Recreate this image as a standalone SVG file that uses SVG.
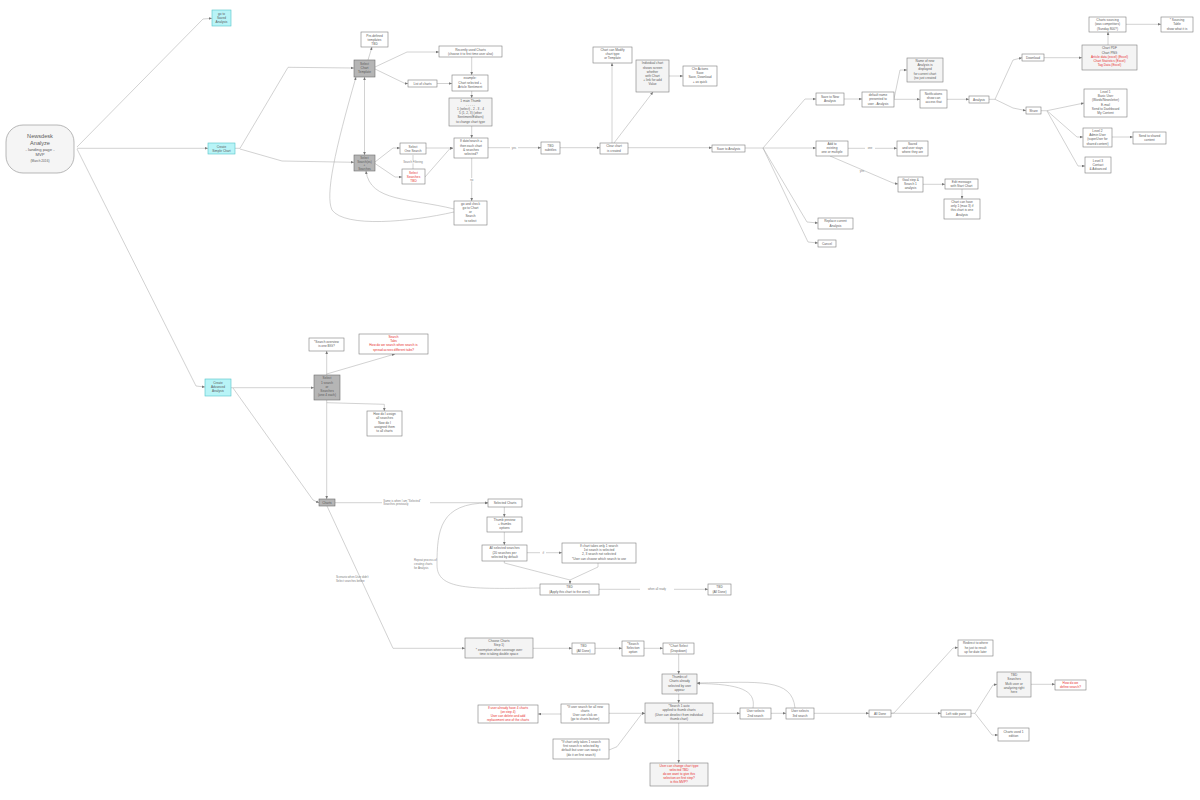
<svg xmlns="http://www.w3.org/2000/svg" width="1200" height="800" viewBox="0 0 1200 800">
<style>
.bg{fill:#ffffff}
.n rect{fill:#ffffff;stroke:#7e7e7e;stroke-width:0.6}
.n.g rect{fill:#f4f4f4}
.n.d rect{fill:#b5b5b5;stroke:#6e6e6e}
.n.c rect{fill:#b8f4f7;stroke:#55c3c8}
.n text{font-family:"Liberation Sans",Arial,sans-serif;font-size:3.2px;fill:#5a5a5a;text-anchor:middle}
.n .r{fill:#e8312f}
.e path{fill:none;stroke:#acacac;stroke-width:0.55;marker-end:url(#a)}
.e path.nb{marker-end:none}
.e path.dd{marker-start:url(#s)}
.l{font-family:"Liberation Sans",Arial,sans-serif;font-size:2.8px;fill:#808080}
</style>
<defs>
<marker id="a" viewBox="0 0 6 6" refX="6" refY="3" markerWidth="3" markerHeight="3" markerUnits="userSpaceOnUse" orient="auto"><path d="M0,0.4 L6,3 L0,5.6z" fill="#777"/></marker>
<marker id="s" viewBox="0 0 6 6" refX="0" refY="3" markerWidth="3" markerHeight="3" markerUnits="userSpaceOnUse" orient="auto"><path d="M6,0.4 L0,3 L6,5.6z" fill="#777"/></marker>
</defs>
<rect class="bg" x="0" y="0" width="1200" height="800"/>

<g id="connectors" class="e">
<path d="M77,147 L203,19 L212,18.3"/>
<path d="M77,148.3 L208,148.3"/>
<path d="M77,149 L196,386 L205,387"/>
<path d="M235,148.3 L240,148.3 L288,67.3 L354,68"/>
<path d="M240,149 L282,161 L354,162.3"/>
<path class="dd" d="M364.5,77 L364.5,155"/>
<path d="M368,60 L372,47"/>
<path d="M375,67 L407,52 L439,52"/>
<path d="M375,69 L405,83.5 L408,83.5"/>
<path d="M437,83.5 L452,83.5"/>
<path d="M471.7,57 L471.7,75"/>
<path d="M471.7,91 L471.7,98"/>
<path d="M471.7,126 L471.7,138"/>
<path d="M375,162 L393,148 L400,148"/>
<path d="M375,163.5 L395,177 L402,177"/>
<path class="nb" d="M413,155 L413,169"/>
<path d="M426,148 L453,148"/>
<path d="M425,177 L450,148.5 L453,148.5"/>
<path d="M487,147.7 L541,147.7"/>
<path d="M471.7,158 L471.7,201"/>
<path d="M454,209 C410,198 370,202 366,171"/>
<path d="M454,212 C410,222 345,228 332,210 C325,195 335,150 356,77"/>
<path d="M560,147.7 L600,147.7"/>
<path d="M612,143 L612,63"/>
<path d="M614,143 L653,92"/>
<path d="M669,76 L683,76"/>
<path d="M628,147.7 L712,147.7"/>
<path d="M745,148 L763,148 L805,99 L816,99"/>
<path d="M763,148 L816,148"/>
<path d="M763,148 L807,222 L818,223"/>
<path d="M763,148 L808,242 L818,243"/>
<path d="M844,99 L862,99"/>
<path d="M894,99 L900,70 L907,70"/>
<path d="M894,99.3 L920,99.3"/>
<path d="M947,99.3 L969,99.3"/>
<path d="M989,99.3 L995,99.3 L1013,60 L1022,57.7"/>
<path d="M995,99.3 L1013,108 L1026,110.7"/>
<path d="M1044,57.7 L1082,57.7"/>
<path d="M1108,45 L1108,32"/>
<path d="M1126,24.3 L1161,24.3"/>
<path d="M1041,110.7 L1047,110.7 L1084,103"/>
<path d="M1047,110.7 L1077,137 L1083,137"/>
<path d="M1047,111 L1078,166 L1085,166"/>
<path d="M1112,137 L1133,137"/>
<path d="M848,148.3 L897,148.3"/>
<path d="M830,156 L893,183 L898,184"/>
<path d="M923,184.3 L945,184.3"/>
<path d="M962,189 L962,199"/>

<path d="M231,387.7 L314,387.7"/>
<path d="M233,388 L313,500 L319,502.7"/>
<path d="M326.7,375 L326.7,351"/>
<path d="M326.7,374 L395,354"/>
<path d="M326.7,402.7 L384.3,404.3 L384.3,411"/>
<path d="M326.7,400 L326.7,499"/>
<path d="M327,506 L393,648.3 L465,648.3"/>
<path d="M335,502.7 L488,502.7"/>
<path d="M504.3,507 L504.3,517"/>
<path d="M504.3,532 L504.3,545"/>
<path d="M527,552.7 L562,552.7"/>
<path class="nb" d="M504.3,561 L504.3,563 L570,580"/>
<path d="M598,563 L598,567 L570,580 L570,584"/>
<path d="M599,589.3 L708,589.3"/>
<path d="M540,588 C470,589 437,590 437,565 C437,530 440,503 488,503"/>

<path d="M533,648.3 L572,648.3"/>
<path d="M595,648.3 L622,648.3"/>
<path d="M644,648.3 L663,648.3"/>
<path d="M678.7,654 L678.7,674"/>
<path d="M678.7,694 L678.7,703"/>
<path d="M678.7,723 L678.7,763"/>
<path d="M713,713.3 L740,713.3"/>
<path d="M771,713.3 L786,713.3"/>
<path d="M814,713.3 L869,713.3"/>
<path d="M753,708 C756,690 740,684 697,683.5"/>
<path d="M795,708 C792,678 760,682 697,683"/>
<path d="M561,714 L538,714"/>
<path d="M609,713.3 L645,713.3"/>
<path d="M609,750 L617,746.7 L642,713.5 L645,713.5"/>
<path d="M891,713.3 L894,713 L953,648 L958,647.5"/>
<path d="M891,713.3 L941,713.3"/>
<path d="M971,713.3 L975,713.3 L993,685 L997,684.3"/>
<path d="M975,713.3 L992,735 L998,735"/>
<path d="M1031,684.3 L1055,684.3"/>
</g>

<g id="edge-labels">
<rect x="403" y="160" width="20" height="3.4" fill="#fff"/>
<text class="l" x="413" y="162.6" text-anchor="middle">Search Filtering</text>
<rect x="510" y="146" width="8" height="3.4" fill="#fff"/>
<text class="l" x="514" y="148.7" text-anchor="middle">yes</text>
<rect x="467" y="178" width="9" height="3.4" fill="#fff"/>
<text class="l" x="471.7" y="180.7" text-anchor="middle">no</text>
<rect x="865" y="146.6" width="10" height="3.4" fill="#fff"/>
<text class="l" x="870" y="149.3" text-anchor="middle">one</text>
<text class="l" x="862" y="172" text-anchor="middle">yes</text>
<rect x="540" y="551" width="6" height="3.4" fill="#fff"/>
<text class="l" x="543.3" y="553.7" text-anchor="middle">if</text>
<rect x="640" y="587.6" width="34" height="3.4" fill="#fff"/>
<text class="l" x="657" y="590.2" text-anchor="middle">when all ready</text>
<rect x="382" y="499.6" width="48" height="6.6" fill="#fff"/>
<text class="l" x="383.3" y="502">Same is when I am "Selected"</text>
<text class="l" x="383.3" y="505.4">Searches previously</text>
<text class="l" x="336" y="578.4">Scenario when User didn't</text>
<text class="l" x="336" y="582.4">Select searches before</text>
<text class="l" x="414" y="561">Repeat process of</text>
<text class="l" x="414" y="565">creating charts</text>
<text class="l" x="414" y="569">for Analysis</text>
</g>

<g id="root" class="n g">
<rect x="6" y="125" width="68" height="48" rx="17" ry="17" style="fill:#f5f5f5;stroke:#8a8a8a"/>
<text x="40" y="138" style="font-size:5.6px">Newsdesk</text>
<text x="40" y="144.5" style="font-size:5.6px">Analyze</text>
<text x="40" y="150.5" style="font-size:4.2px">- landing page -</text>
<text x="40" y="155.5" style="font-size:4.2px">MVP</text>
<text x="40" y="162" style="font-size:3.2px">(March 2016)</text>
</g>

<g id="saved-analysis" class="n c"><rect x="212" y="10" width="19" height="16"/>
<text x="221.5" y="14.8">go to</text><text x="221.5" y="18.9">Saved</text><text x="221.5" y="23">Analysis</text></g>
<g id="simple-chart" class="n c"><rect x="208" y="143" width="27" height="11"/>
<text x="221.5" y="147.7">Create</text><text x="221.5" y="151.8">Simple Chart</text></g>
<g id="advanced" class="n c"><rect x="205" y="379" width="26" height="17"/>
<text x="218" y="384">Create</text><text x="218" y="388.2">Advanced</text><text x="218" y="392.4">Analysis</text></g>

<g id="predefined" class="n"><rect x="361" y="32" width="27" height="15"/>
<text x="374.5" y="36.5">Pre-defined</text><text x="374.5" y="40.6">templates</text><text x="374.5" y="44.7">TBD</text></g>
<g id="select-template" class="n d"><rect x="354" y="60" width="21" height="17"/>
<text x="364.5" y="64.6">Select</text><text x="364.5" y="68.8">Chart</text><text x="364.5" y="73">Template</text></g>
<g id="recent" class="n"><rect x="439" y="46" width="63" height="11"/>
<text x="470.5" y="50.5">Recently used Charts</text><text x="470.5" y="54.7">(choose it to first time user also)</text></g>
<g id="list-charts" class="n"><rect x="408" y="80" width="29" height="7"/>
<text x="422.5" y="84.8">List of charts</text></g>
<g id="example" class="n"><rect x="452" y="75" width="36" height="16"/>
<text x="470" y="79.3">example:</text><text x="470" y="83.5">Chart selected +</text><text x="470" y="87.7">Article Sentiment</text></g>
<g id="main-thumb" class="n g"><rect x="449" y="98" width="43" height="28"/>
<text x="470.5" y="101.8">1 main Thumb</text><text x="470.5" y="105.5">- - - - -</text><text x="470.5" y="109.7">1 (select) - 2 - 3 - 4</text><text x="470.5" y="114">5 (1, 2, 3) (other</text><text x="470.5" y="118.3">Sentiment/Editors)</text><text x="470.5" y="122.6">to change chart type</text></g>
<g id="select-search" class="n d"><rect x="354" y="155" width="21" height="16"/>
<text x="364.5" y="159" style="font-size:3px">Select</text><text x="364.5" y="162.5" style="font-size:3px">Search(es)</text><text x="364.5" y="166" style="font-size:3px">+</text><text x="364.5" y="169.5" style="font-size:3px">Searches</text></g>
<g id="one-search" class="n"><rect x="400" y="143" width="26" height="11"/>
<text x="413" y="147.5">Select</text><text x="413" y="151.6">One Search</text></g>
<g id="multi-search" class="n"><rect x="402" y="169" width="23" height="15"/>
<text class="r" x="413.5" y="173.6">Select</text><text class="r" x="413.5" y="177.7">Searches</text><text class="r" x="413.5" y="181.8">TBD</text></g>
<g id="if-date" class="n"><rect x="454" y="138" width="34" height="20"/>
<text x="471" y="142.3">If date/search =</text><text x="471" y="146.5">then each chart</text><text x="471" y="150.7">&amp; searches</text><text x="471" y="154.9">selected?</text></g>
<g id="tbd-subtitles" class="n"><rect x="541" y="142" width="19" height="12"/>
<text x="550.5" y="146.6">TBD</text><text x="550.5" y="150.7">subtitles</text></g>
<g id="go-check" class="n"><rect x="454" y="201" width="33" height="24"/>
<text x="470.5" y="204.8">go and check</text><text x="470.5" y="209">go to Chart</text><text x="470.5" y="213.2">or</text><text x="470.5" y="217.4">Search</text><text x="470.5" y="221.6">to select</text></g>
<g id="clear-chart" class="n"><rect x="600" y="143" width="28" height="11"/>
<text x="614" y="147.4">Clear chart</text><text x="614" y="151.5">is created</text></g>
<g id="chart-modify" class="n"><rect x="593" y="47" width="39" height="16"/>
<text x="612.5" y="50.9">Chart can Modify</text><text x="612.5" y="55.1">chart type</text><text x="612.5" y="59.3">or Template</text></g>
<g id="individual" class="n g"><rect x="636" y="60" width="33" height="32"/>
<text x="652.5" y="64.4">Individual chart</text><text x="652.5" y="68.6">shows screen</text><text x="652.5" y="72.8">whether</text><text x="652.5" y="77">with Chart</text><text x="652.5" y="81.2">+ link for add</text><text x="652.5" y="85.4">Value</text></g>
<g id="chr-actions" class="n"><rect x="683" y="66" width="34" height="20"/>
<text x="700" y="70">Chr Actions</text><text x="700" y="74.2">Save</text><text x="700" y="78.4">Save, Download</text><text x="700" y="82.6">+ as quick</text></g>
<g id="save-to" class="n"><rect x="712" y="145" width="33" height="7"/>
<text x="728.5" y="149.7">Save to Analysis</text></g>
<g id="save-new" class="n"><rect x="816" y="93" width="28" height="12"/>
<text x="830" y="97.6">Save to New</text><text x="830" y="101.7">Analysis</text></g>
<g id="default-name" class="n"><rect x="862" y="92" width="32" height="15"/>
<text x="878" y="96.3">default name</text><text x="878" y="100.4">presented to</text><text x="878" y="104.5">user - Analysis</text></g>
<g id="name-new" class="n g"><rect x="907" y="58" width="36" height="24"/>
<text x="925" y="62">Name of new</text><text x="925" y="66.2">Analysis is</text><text x="925" y="70.4">displayed</text><text x="925" y="74.6">for current chart</text><text x="925" y="78.8">(no just created</text></g>
<g id="notifications" class="n"><rect x="920" y="90" width="27" height="18"/>
<text x="933.5" y="94.8">Notifications</text><text x="933.5" y="99">show can</text><text x="933.5" y="103.2">access that</text></g>
<g id="analysis" class="n"><rect x="969" y="96" width="20" height="7"/>
<text x="979" y="100.7">Analysis</text></g>
<g id="download" class="n"><rect x="1022" y="54" width="22" height="7"/>
<text x="1033" y="58.7">Download</text></g>
<g id="chart-pdf" class="n g"><rect x="1082" y="45" width="55" height="25"/>
<text x="1109.5" y="49.3">Chart PDF</text><text x="1109.5" y="53.5">Chart PNG</text><text class="r" x="1109.5" y="57.7">Article data (excel) (Excel)</text><text class="r" x="1109.5" y="61.9">Chart Statistics (Excel)</text><text class="r" x="1109.5" y="66.1">Tag Data (Excel)</text></g>
<g id="sourcing" class="n"><rect x="1089" y="17" width="37" height="15"/>
<text x="1107.5" y="21.3">Charts sourcing</text><text x="1107.5" y="25.4">(was competitors)</text><text x="1107.5" y="29.5">(Sunday 800?)</text></g>
<g id="sourcing-table" class="n"><rect x="1161" y="17" width="32" height="15"/>
<text x="1177" y="21.3">* Sourcing</text><text x="1177" y="25.4">Table</text><text x="1177" y="29.5">show what it is</text></g>
<g id="share" class="n"><rect x="1026" y="107" width="15" height="7"/>
<text x="1033.5" y="111.7">Share</text></g>
<g id="level1" class="n"><rect x="1084" y="89" width="43" height="28"/>
<text x="1105.5" y="92.9">Level 1</text><text x="1105.5" y="97.1">Basic User</text><text x="1105.5" y="101.3">(Words/Newsletter)</text><text x="1105.5" y="105.5">E-mail</text><text x="1105.5" y="109.7">Send to Dashboard</text><text x="1105.5" y="113.9">My Content</text></g>
<g id="level2" class="n"><rect x="1083" y="128" width="29" height="19"/>
<text x="1097.5" y="132">Level 2</text><text x="1097.5" y="136.2">Admin User</text><text x="1097.5" y="140.4">(superUser for</text><text x="1097.5" y="144.6">shared content)</text></g>
<g id="send-shared" class="n"><rect x="1133" y="132" width="33" height="12"/>
<text x="1149.5" y="136.6">Send to shared</text><text x="1149.5" y="140.7">content</text></g>
<g id="level3" class="n"><rect x="1085" y="157" width="26" height="16"/>
<text x="1098" y="161.6">Level 3</text><text x="1098" y="165.8">Contact</text><text x="1098" y="170">&amp; Advanced</text></g>
<g id="add-existing" class="n"><rect x="816" y="141" width="32" height="15"/>
<text x="832" y="145.2">Add to</text><text x="832" y="149.3">existing</text><text x="832" y="153.4">one or multiple</text></g>
<g id="saved-stays" class="n"><rect x="897" y="141" width="31" height="15"/>
<text x="912.5" y="145.2">Saved</text><text x="912.5" y="149.3">and user stays</text><text x="912.5" y="153.4">where they are</text></g>
<g id="goal-step" class="n"><rect x="898" y="177" width="25" height="15"/>
<text x="910.5" y="181.2">Goal step &amp;</text><text x="910.5" y="185.3">Search 1</text><text x="910.5" y="189.4">analysis</text></g>
<g id="edit-message" class="n"><rect x="945" y="179" width="33" height="10"/>
<text x="961.5" y="183.2">Edit message</text><text x="961.5" y="187.3">with Start Chart</text></g>
<g id="chart-have" class="n"><rect x="944" y="199" width="36" height="20"/>
<text x="962" y="203">Chart can have</text><text x="962" y="207.2">only 1 (max 3) if</text><text x="962" y="211.4">this chart is one</text><text x="962" y="215.6">Analysis</text></g>
<g id="replace" class="n"><rect x="818" y="218" width="35" height="11"/>
<text x="835.5" y="222.4">Replace current</text><text x="835.5" y="226.5">Analysis</text></g>
<g id="cancel" class="n"><rect x="818" y="240" width="18" height="7"/>
<text x="827" y="244.7">Cancel</text></g>

<g id="search-overview" class="n"><rect x="309" y="338" width="35" height="13"/>
<text x="326.5" y="343.3">*Search overview</text><text x="326.5" y="347.4">is one BIG?</text></g>
<g id="search-tbd" class="n"><rect x="359" y="334" width="69" height="20"/>
<text class="r" x="393.5" y="338.2">Search</text><text class="r" x="393.5" y="342.3">Tabs</text><text class="r" x="393.5" y="346.4">How do we search when search is</text><text class="r" x="393.5" y="350.5">spread across different tabs?</text></g>
<g id="select-1-search" class="n d"><rect x="314" y="375" width="26" height="25"/>
<text x="327" y="379.4">Select</text><text x="327" y="383.6">1 search</text><text x="327" y="387.8">or</text><text x="327" y="392">Searches</text><text x="327" y="396.2">(one 4 each)</text></g>
<g id="how-assign" class="n"><rect x="367" y="411" width="35" height="25"/>
<text x="384.5" y="415.2">How do I assign</text><text x="384.5" y="419.4">all searches</text><text x="384.5" y="423.6">Now do I</text><text x="384.5" y="427.8">assigned them</text><text x="384.5" y="432">to all charts</text></g>
<g id="charts" class="n d"><rect x="319" y="499" width="16" height="7"/>
<text x="327" y="503.7">Charts</text></g>
<g id="selected-charts" class="n"><rect x="488" y="499" width="34" height="8"/>
<text x="505" y="504.1">Selected Charts</text></g>
<g id="thumb-preview" class="n"><rect x="487" y="517" width="35" height="15"/>
<text x="504.5" y="521.2">Thumb preview</text><text x="504.5" y="525.3">+ thumbs</text><text x="504.5" y="529.4">options</text></g>
<g id="all-selected" class="n"><rect x="482" y="545" width="45" height="16"/>
<text x="504.5" y="549.4">All selected searches</text><text x="504.5" y="553.5">(20 searches per</text><text x="504.5" y="557.6">selected by default</text></g>
<g id="if-chart" class="n"><rect x="562" y="543" width="74" height="20"/>
<text x="599" y="547">If chart takes only 1 search</text><text x="599" y="551.2">1st search is selected</text><text x="599" y="555.4">2, 3 search not selected</text><text x="599" y="559.6">*User can choose which search to use</text></g>
<g id="apply" class="n"><rect x="540" y="584" width="59" height="11"/>
<text x="569.5" y="588.4">TBD</text><text x="569.5" y="592.5">(Apply this chart to the ones)</text></g>
<g id="all-done-1" class="n"><rect x="708" y="584" width="23" height="11"/>
<text x="719.5" y="588.4">TBD</text><text x="719.5" y="592.5">(All Done)</text></g>

<g id="choose-charts" class="n g"><rect x="465" y="638" width="68" height="20"/>
<text x="499" y="642.2">Choose Charts</text><text x="499" y="646.4">Step 1)</text><text x="499" y="650.6">* exemption when coverage over</text><text x="499" y="654.8">time is taking double space</text></g>
<g id="all-done-2" class="n"><rect x="572" y="643" width="23" height="11"/>
<text x="583.5" y="647.4">TBD</text><text x="583.5" y="651.5">(All Done)</text></g>
<g id="search-selection" class="n"><rect x="622" y="641" width="22" height="15"/>
<text x="633" y="645.2">*Search</text><text x="633" y="649.3">Selection</text><text x="633" y="653.4">option</text></g>
<g id="chart-select" class="n"><rect x="663" y="643" width="31" height="11"/>
<text x="678.5" y="647.4">*Chart Select</text><text x="678.5" y="651.5">(Dropdown)</text></g>
<g id="thumbs-selected" class="n g"><rect x="662" y="674" width="35" height="20"/>
<text x="679.5" y="678.2">Thumbs of</text><text x="679.5" y="682.4">Charts already</text><text x="679.5" y="686.6">selected by user</text><text x="679.5" y="690.8">appear</text></g>
<g id="search-1-auto" class="n g"><rect x="645" y="703" width="68" height="20"/>
<text x="679" y="707.2">*Search 1 auto</text><text x="679" y="711.4">applied to thumb charts</text><text x="679" y="715.6">(User can deselect from individual</text><text x="679" y="719.8">thumb chart)</text></g>
<g id="user-change" class="n g"><rect x="650" y="763" width="58" height="23"/>
<text class="r" x="679" y="767">User can change chart type</text><text class="r" x="679" y="771.1">selected TBD</text><text class="r" x="679" y="775.2">do we want to give this</text><text class="r" x="679" y="779.3">selection on first step?</text><text class="r" x="679" y="783.4">is this MVP?</text></g>
<g id="user-2nd" class="n"><rect x="740" y="708" width="31" height="11"/>
<text x="755.5" y="712.4">User selects</text><text x="755.5" y="716.5">2nd search</text></g>
<g id="user-3rd" class="n"><rect x="786" y="708" width="28" height="11"/>
<text x="800" y="712.4">User selects</text><text x="800" y="716.5">3rd search</text></g>
<g id="if-user-search" class="n"><rect x="561" y="704" width="48" height="19"/>
<text x="585" y="707.9">*If user search for all new</text><text x="585" y="712">charts</text><text x="585" y="716.1">User can click on</text><text x="585" y="720.2">(go to charts button)</text></g>
<g id="if-already" class="n"><rect x="478" y="705" width="60" height="18"/>
<text class="r" x="508" y="708.9">If user already have 4 charts</text><text class="r" x="508" y="712.8">(on step 4)</text><text class="r" x="508" y="716.7">User can delete and add</text><text class="r" x="508" y="720.6">replacement one of the charts</text></g>
<g id="if-chart-only" class="n"><rect x="553" y="739" width="56" height="20"/>
<text x="581" y="743">*If chart only takes 1 search</text><text x="581" y="747.2">first search is selected by</text><text x="581" y="751.4">default but user can swap it</text><text x="581" y="755.6">(do it on first search)</text></g>
<g id="all-done-3" class="n"><rect x="869" y="710" width="22" height="7"/>
<text x="880" y="714.7">All Done</text></g>
<g id="redirect" class="n"><rect x="958" y="640" width="35" height="16"/>
<text x="975.5" y="644.4">Redirect to where</text><text x="975.5" y="648.5">he just to result</text><text x="975.5" y="652.6">up for date later</text></g>
<g id="left-pane" class="n"><rect x="941" y="710" width="30" height="7"/>
<text x="956" y="714.7">Left side pane</text></g>
<g id="tbd-searches" class="n g"><rect x="997" y="672" width="34" height="25"/>
<text x="1014" y="676.2">TBD</text><text x="1014" y="680.4">Searches</text><text x="1014" y="684.6">Multi user or</text><text x="1014" y="688.8">analyzing right</text><text x="1014" y="693">here</text></g>
<g id="how-define" class="n"><rect x="1055" y="680" width="31" height="10"/>
<text class="r" x="1070.5" y="684.2">How do we</text><text class="r" x="1070.5" y="688.3">define search?</text></g>
<g id="charts-used" class="n"><rect x="998" y="728" width="31" height="13"/>
<text x="1013.5" y="733.3">Charts used 1</text><text x="1013.5" y="737.4">edition</text></g>
</svg>
